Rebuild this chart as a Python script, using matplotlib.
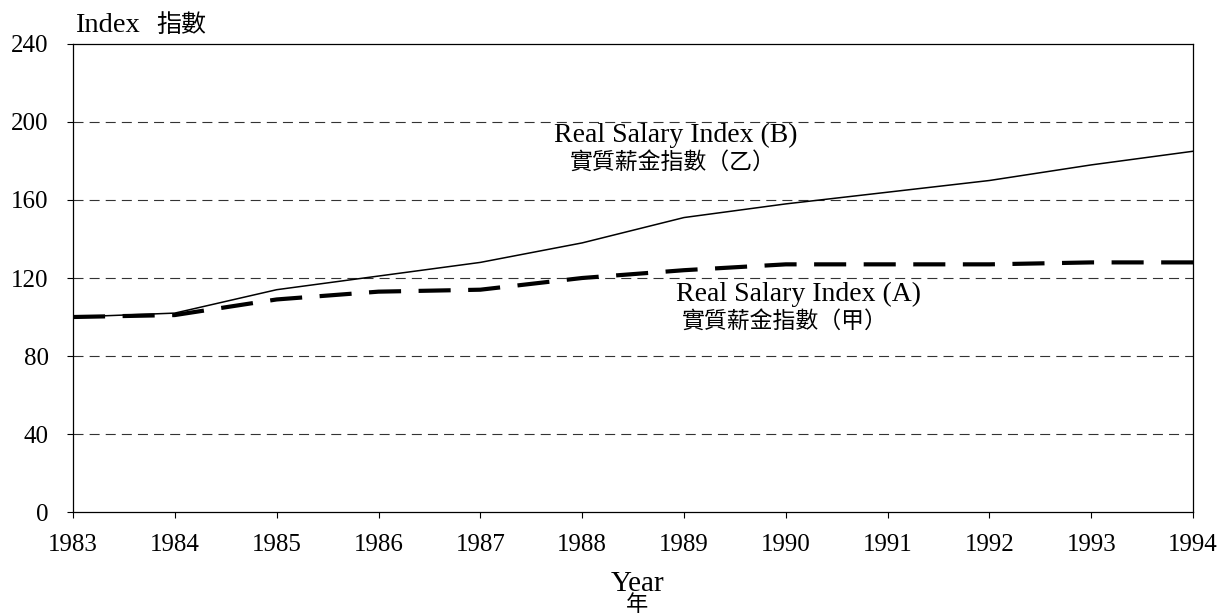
#! /usr/bin/env python3

import matplotlib
matplotlib.use('Agg')
import matplotlib.pyplot as plt

# data
years = [1983, 1984, 1985, 1986, 1987, 1988, 1989, 1990, 1991, 1992, 1993, 1994]
index_b = [100, 102, 114, 121, 128, 138, 151, 158, 164, 170, 178, 185]
index_a = [100, 101, 109, 113, 114, 120, 124, 127, 127, 127, 128, 128]
yticks = [0, 40, 80, 120, 160, 200, 240]

plt.rcParams['font.family'] = ['Liberation Serif', 'Noto Sans CJK TC']
plt.rcParams['font.size'] = 18

fig = plt.figure(figsize=(12.25, 6.16), dpi=100)
ax = fig.add_axes([0.0596, 0.1688, 0.9144, 0.7598])

# grid lines
for y in yticks[1:-1]:
	ax.axhline(y, color='#333333', lw=0.8, linestyle=(0, (9, 5.5)), zorder=1)

ax.plot(years, index_b, color='black', lw=1.1, zorder=3)
ax.plot(years, index_a, color='black', lw=3.0, linestyle=(0, (7.7, 4.2)), zorder=3)

ax.set_xlim(1983, 1994)
ax.set_ylim(0, 240)
ax.set_xticks(years)
ax.set_yticks(yticks)
ax.tick_params(axis='x', direction='out', length=4.5, width=0.8, pad=11, labelsize=18)
ax.tick_params(axis='y', direction='out', length=4.5, width=0.8, pad=13, labelsize=18)
for s in ax.spines.values():
	s.set_linewidth(0.9)

# series labels
ax.text(1988.92, 189.9, 'Real Salary Index (B)', ha='center', va='baseline', fontsize=20)
ax.text(1988.89, 176.0, '實質薪金指數（乙）', ha='center', va='baseline', fontsize=16.5)
ax.text(1990.12, 108.4, 'Real Salary Index (A)', ha='center', va='baseline', fontsize=20)
ax.text(1989.99, 94.6, '實質薪金指數（甲）', ha='center', va='baseline', fontsize=16.5)

# axis titles
tr = ax.get_xaxis_transform()
ax.text(1988.54, -0.1688, 'Year', transform=tr, ha='center', va='baseline', fontsize=21)
ax.text(1988.54, -0.2105, '年', transform=tr, ha='center', va='baseline', fontsize=16)
ax.text(1983.02, 1.0256, 'Index', transform=tr, ha='left', va='baseline', fontsize=20.5)
ax.text(1983.82, 1.0256, '指數', transform=tr, ha='left', va='baseline', fontsize=18)

fig.savefig('out.png', dpi=100)
